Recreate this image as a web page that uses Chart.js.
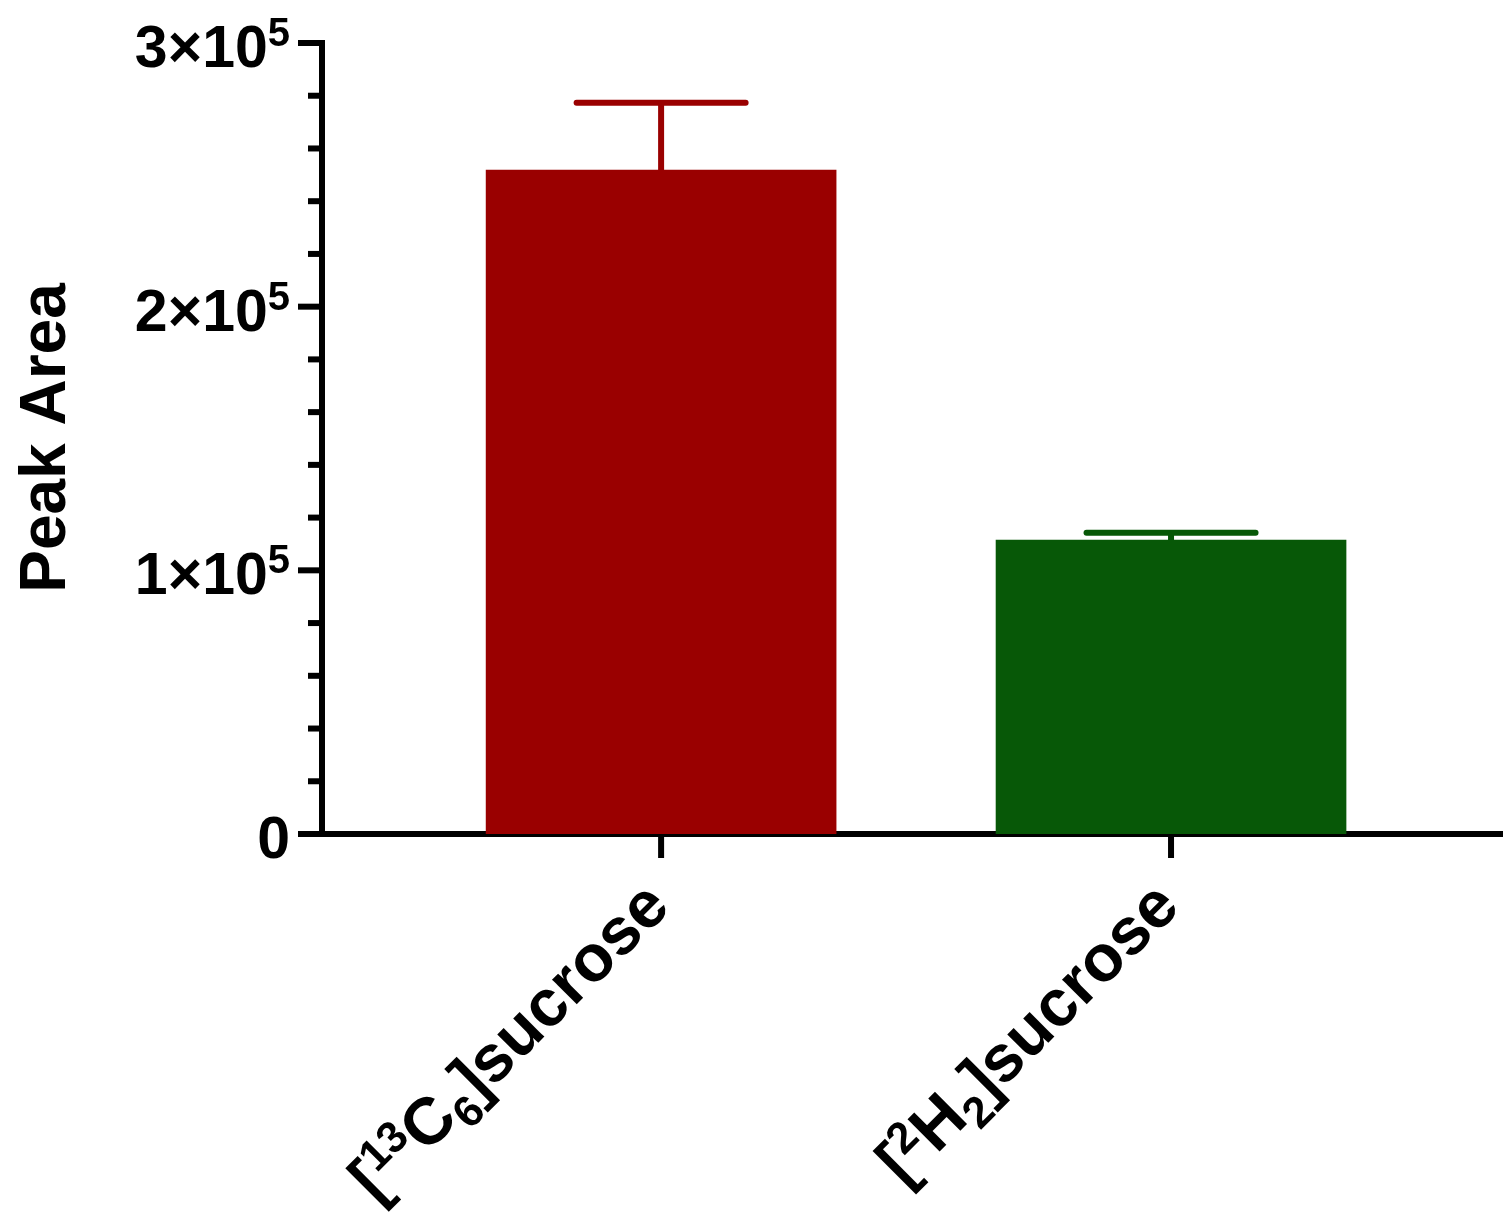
<!DOCTYPE html>
<html>
<head>
<meta charset="utf-8">
<script src="https://cdn.jsdelivr.net/npm/chart.js@4.4.1/dist/chart.umd.min.js"></script>
<style>
  html, body { margin: 0; padding: 0; background: #ffffff; }
  #wrap { width: 1503px; height: 1219px; position: relative; }
  canvas { display: block; }
</style>
</head>
<body>
<div id="wrap"><canvas id="chart" width="1503" height="1219"></canvas></div>
<script>
// Labelled isotopologues (markup: <sup>, <sub>)
const categories = ['[<sup>13</sup>C<sub>6</sub>]sucrose', '[<sup>2</sup>H<sub>2</sub>]sucrose'];
const categoryPositions = [1, 2];
// Mean peak area and error (upper bar only)
const peakArea = [251800, 111500];
const peakAreaError = [25500, 2800];
const barColors = ['#9a0000', '#075807'];
// Y axis ticks
const yTickValues = [0, 100000, 200000, 300000];
const yTickLabels = ['0', '1×10<sup>5</sup>', '2×10<sup>5</sup>', '3×10<sup>5</sup>'];
const yMinorStep = 20000;
const yTitle = 'Peak Area';

const FONT = '"Liberation Sans", Arial, Helvetica, sans-serif';

function parseRich(markup) {
  const parts = [];
  const re = /<(sup|sub)>(.*?)<\/\1>/g;
  let last = 0, m;
  while ((m = re.exec(markup)) !== null) {
    if (m.index > last) parts.push({ text: markup.slice(last, m.index), kind: 'normal' });
    parts.push({ text: m[2], kind: m[1] });
    last = re.lastIndex;
  }
  if (last < markup.length) parts.push({ text: markup.slice(last), kind: 'normal' });
  return parts;
}

// Draws rich text so that its right end sits at (0,0) on the baseline
function drawRichRightAligned(ctx, markup, size, smallSize, rise, drop) {
  const parts = parseRich(markup);
  const fontFor = k => 'bold ' + (k === 'normal' ? size : smallSize) + 'px ' + FONT;
  let total = 0;
  parts.forEach(p => { ctx.font = fontFor(p.kind); p.w = ctx.measureText(p.text).width; total += p.w; });
  let x = -total;
  ctx.textAlign = 'left';
  ctx.textBaseline = 'alphabetic';
  parts.forEach(p => {
    ctx.font = fontFor(p.kind);
    const dy = p.kind === 'sup' ? -rise : (p.kind === 'sub' ? drop : 0);
    ctx.fillText(p.text, x, dy);
    x += p.w;
  });
}

const axisDecorations = {
  id: 'axisDecorations',
  afterDatasetsDraw(chart) {
    const ctx = chart.ctx;
    const y = chart.scales.y;
    const meta = chart.getDatasetMeta(0);
    ctx.save();
    ctx.lineWidth = 6;
    meta.data.forEach((bar, i) => {
      const top = y.getPixelForValue(peakArea[i] + peakAreaError[i]);
      ctx.strokeStyle = barColors[i];
      ctx.lineCap = 'butt';
      ctx.beginPath();
      ctx.moveTo(bar.x, bar.y);
      ctx.lineTo(bar.x, top);
      ctx.stroke();
      ctx.lineCap = 'round';
      ctx.beginPath();
      ctx.moveTo(bar.x - 84.5, top);
      ctx.lineTo(bar.x + 84.5, top);
      ctx.stroke();
    });
    ctx.restore();
  },
  afterDraw(chart) {
    const ctx = chart.ctx;
    const x = chart.scales.x;
    const y = chart.scales.y;
    const area = chart.chartArea;
    ctx.save();
    ctx.strokeStyle = '#000';
    ctx.fillStyle = '#000';
    ctx.lineWidth = 6;
    ctx.lineCap = 'butt';

    // y ticks: long at labelled values, short in between
    for (let v = y.min; v <= y.max + 1; v += yMinorStep) {
      const py = y.getPixelForValue(v);
      const major = yTickValues.includes(v);
      const len = major ? 24 : 14;
      ctx.beginPath();
      ctx.moveTo(area.left - len, py);
      ctx.lineTo(area.left + 3, py);
      ctx.stroke();
    }
    // y tick labels
    yTickValues.forEach((v, i) => {
      const py = y.getPixelForValue(v);
      ctx.save();
      ctx.translate(area.left - 32, py + 24);
      drawRichRightAligned(ctx, yTickLabels[i], 59, 40, 21, 0);
      ctx.restore();
    });

    // category ticks
    categoryPositions.forEach(c => {
      const px = x.getPixelForValue(c);
      ctx.beginPath();
      ctx.moveTo(px, area.bottom);
      ctx.lineTo(px, area.bottom + 24);
      ctx.stroke();
    });
    // category labels, rotated 45 degrees
    categoryPositions.forEach((c, i) => {
      const px = x.getPixelForValue(c);
      ctx.save();
      ctx.translate(px + 11, area.bottom + 75);
      ctx.rotate(-Math.PI / 4);
      drawRichRightAligned(ctx, categories[i], 66, 44, 22, 14);
      ctx.restore();
    });

    // y axis title
    ctx.save();
    ctx.translate(65, 438);
    ctx.rotate(-Math.PI / 2);
    ctx.font = 'bold 64px ' + FONT;
    ctx.textAlign = 'center';
    ctx.textBaseline = 'alphabetic';
    ctx.fillText(yTitle, 0, 0);
    ctx.restore();

    ctx.restore();
  }
};

new Chart(document.getElementById('chart'), {
  type: 'bar',
  data: {
    datasets: [{
      data: categoryPositions.map((c, i) => ({ x: c, y: peakArea[i] })),
      backgroundColor: barColors,
      borderWidth: 0,
      barThickness: 350
    }]
  },
  options: {
    responsive: false,
    animation: false,
    devicePixelRatio: 1,
    layout: { padding: { top: 43, left: 0, right: 0, bottom: 0 } },
    plugins: { legend: { display: false }, tooltip: { enabled: false }, title: { display: false } },
    scales: {
      x: {
        type: 'linear',
        min: 0.335,
        max: 2.651,
        offset: false,
        grid: { display: false },
        ticks: { display: false },
        border: { display: true, width: 6, color: '#000' },
        afterFit(s) { s.height = 385; }
      },
      y: {
        min: 0,
        max: 300000,
        ticks: { display: false, stepSize: yMinorStep },
        grid: { display: false },
        border: { display: true, width: 6, color: '#000' },
        afterFit(s) { s.width = 322; }
      }
    }
  },
  plugins: [axisDecorations]
});
</script>
</body>
</html>
